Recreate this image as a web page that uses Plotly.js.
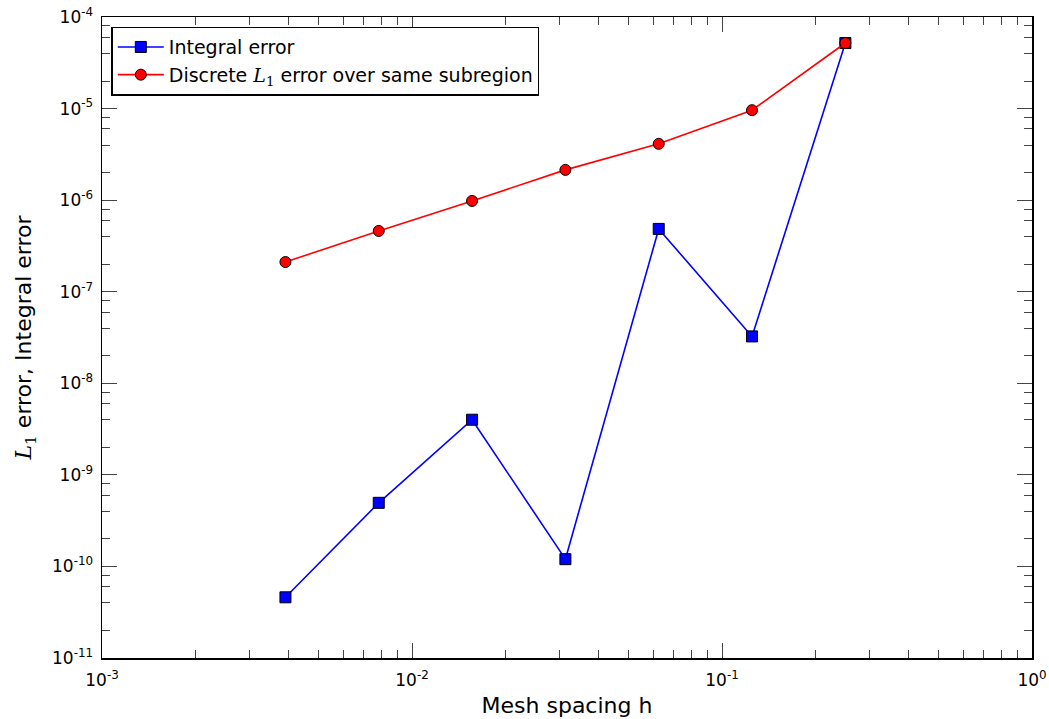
<!DOCTYPE html>
<html>
<head>
<meta charset="utf-8">
<script src="https://cdn.plot.ly/plotly-3.0.1.min.js"></script>
<style>html,body{margin:0;padding:0;background:#fff;}#chart{width:1049px;height:719px;}</style>
</head>
<body>
<div id="chart"></div>
<script>
// Data
const meshSpacing = [0.00390625, 0.0078125, 0.015625, 0.03125, 0.0625, 0.125, 0.25];
const integralError = [4.6e-11, 4.95e-10, 4.0e-9, 1.2e-10, 4.85e-7, 3.25e-8, 5.2e-5];
const discreteL1Error = [2.11e-7, 4.61e-7, 9.8e-7, 2.14e-6, 4.12e-6, 9.6e-6, 5.2e-5];

const xTickVals = [1e-3, 1e-2, 1e-1, 1];
const xTickText = ['10<sup>-3</sup>', '10<sup>-2</sup>', '10<sup>-1</sup>', '10<sup>0</sup>'];
const yTickVals = [1e-11, 1e-10, 1e-9, 1e-8, 1e-7, 1e-6, 1e-5, 1e-4];
const yTickText = ['10<sup>-11</sup>', '10<sup>-10</sup>', '10<sup>-9</sup>', '10<sup>-8</sup>',
                   '10<sup>-7</sup>', '10<sup>-6</sup>', '10<sup>-5</sup>', '10<sup>-4</sup>'];
const xMinorDigits = [2, 3, 4, 5, 6, 7, 8, 9];
const yMinorDigits = [2, 4, 6, 8];

const xMinor = [];
[1e-3, 1e-2, 1e-1].forEach(d => xMinorDigits.forEach(m => xMinor.push(m * d)));
const yMinor = [];
[1e-11, 1e-10, 1e-9, 1e-8, 1e-7, 1e-6, 1e-5].forEach(d => yMinorDigits.forEach(m => yMinor.push(m * d)));

const FONT = 'DejaVu Sans, sans-serif';
const MATH = 'font-family:DejaVu Serif;font-style:italic';
const L1 = '<span style="' + MATH + '">L</span><sub><span style="font-family:DejaVu Serif">1</span></sub>';

const traces = [
  {
    x: meshSpacing, y: integralError, type: 'scatter', mode: 'lines+markers',
    name: 'Integral error',
    line: {color: '#0000ff', width: 1.6},
    marker: {symbol: 'square', size: 11, color: '#0000ff', line: {color: '#000', width: 1}}
  },
  {
    x: meshSpacing, y: discreteL1Error, type: 'scatter', mode: 'lines+markers',
    name: 'Discrete ' + L1 + ' error over same subregion',
    line: {color: '#ff0000', width: 1.6},
    marker: {symbol: 'circle', size: 11, color: '#ff0000', line: {color: '#000', width: 1}}
  }
];

const axisCommon = {
  type: 'log', showgrid: false, zeroline: false,
  showline: true, linecolor: '#000', linewidth: 1.5, mirror: 'ticks',
  ticks: 'inside', ticklen: 15, tickwidth: 1, tickcolor: '#444',
  tickmode: 'array', tickfont: {family: FONT, size: 17, color: '#000'}
};

const layout = {
  width: 1049, height: 719,
  margin: {l: 102, r: 17, t: 17, b: 61},
  paper_bgcolor: '#fff', plot_bgcolor: '#fff',
  font: {family: FONT, color: '#000'},
  showlegend: true,
  legend: {
    x: 0.010, y: 0.985, xanchor: 'left', yanchor: 'top',
    bgcolor: '#fff', bordercolor: '#000', borderwidth: 1.5,
    font: {family: FONT, size: 19, color: '#000'},
    itemwidth: 46,
    tracegroupgap: 0
  },
  xaxis: Object.assign({}, axisCommon, {
    range: [-3, 0],
    tickvals: xTickVals, ticktext: xTickText,
    ticklabelstandoff: 6,
    minor: {tickmode: 'array', tickvals: xMinor, ticks: 'inside', ticklen: 8, tickwidth: 1, tickcolor: '#444'},
    title: {text: 'Mesh spacing h', font: {family: FONT, size: 22, color: '#000'}, standoff: 8}
  }),
  yaxis: Object.assign({}, axisCommon, {
    range: [-11, -4],
    tickvals: yTickVals, ticktext: yTickText,
    ticklabelstandoff: 4,
    minor: {tickmode: 'array', tickvals: yMinor, ticks: 'inside', ticklen: 8, tickwidth: 1, tickcolor: '#444'},
    title: {text: L1 + ' error, Integral error',
            font: {family: FONT, size: 22, color: '#000'}, standoff: 14}
  })
};

Plotly.newPlot('chart', traces, layout, {displayModeBar: false, staticPlot: true});
</script>
</body>
</html>
